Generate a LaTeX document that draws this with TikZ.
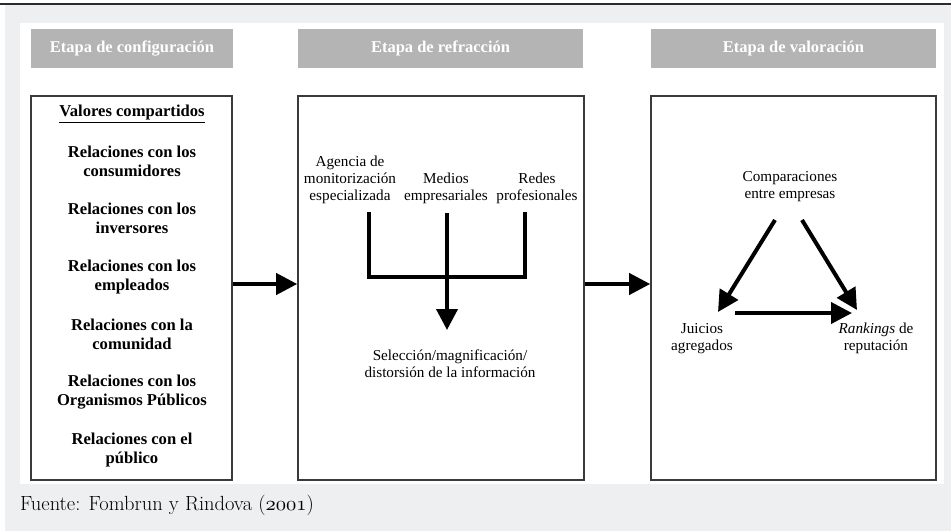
\documentclass[tikz,border=0pt]{standalone}
\usepackage{fontspec}
\newfontfamily\timesfam{Liberation Serif}
\usetikzlibrary{arrows.meta}
\font\osdigits=cmmi10 at 20.5pt
\definecolor{pagebg}{HTML}{EEEFF1}
\definecolor{headgray}{HTML}{B4B4B4}
\definecolor{framegray}{HTML}{3A3A3A}
\definecolor{rulegray}{HTML}{2B2B2B}
\begin{document}
\begin{tikzpicture}[x=1pt,y=-1pt,
  stagebox/.style={draw=framegray, line width=1.6pt, fill=white, inner sep=0pt},
  headbox/.style={fill=headgray, inner sep=0pt, text=white,
    font=\timesfam\bfseries\fontsize{16.5}{19}\selectfont},
  relbold/.style={align=center, inner sep=0pt,
    font=\timesfam\bfseries\fontsize{16.6}{19}\selectfont},
  plaintext/.style={align=center, inner sep=0pt,
    font=\timesfam\fontsize{15.2}{17}\selectfont},
  flow/.style={line width=4pt, -{Triangle[length=21pt,width=21pt]}},
  fork/.style={line width=4pt, line join=miter},
]
\useasboundingbox (0,0) rectangle (951,531);

% page background, top rule and white panel
\fill[pagebg] (5,5) rectangle (951,531);
\draw[rulegray, line width=1.5pt] (0,4) -- (951,4);
\fill[white] (20,23) rectangle (944,484);

% stage headers
\node[headbox, minimum width=202pt, minimum height=39pt] (h1) at (132,48.5) {Etapa de configuración};
\node[headbox, minimum width=285pt, minimum height=39pt] (h2) at (440.5,48.5) {Etapa de refracción};
\node[headbox, minimum width=285pt, minimum height=39pt] (h3) at (793.5,48.5) {Etapa de valoración};

% stage boxes
\node[stagebox, minimum width=201pt, minimum height=384pt] (b1) at (131.5,288) {};
\node[stagebox, minimum width=286pt, minimum height=384pt] (b2) at (441,288) {};
\node[stagebox, minimum width=285pt, minimum height=384pt] (b3) at (793.5,288) {};

% configuration stage
\node[relbold] (valores) at (132,114) {\underline{Valores compartidos}};
\node[relbold] (r1) at (132,161.5) {Relaciones con los\\consumidores};
\node[relbold] (r2) at (132,218.5) {Relaciones con los\\inversores};
\node[relbold] (r3) at (132,277) {Relaciones con los\\empleados};
\node[relbold] (r4) at (132,334.5) {Relaciones con la\\comunidad};
\node[relbold] (r5) at (132,392.5) {Relaciones con los\\Organismos Públicos};
\node[relbold] (r6) at (132,449.5) {Relaciones con el\\público};

% refraction stage
\node[plaintext] (agencia) at (350,180) {Agencia de\\monitorización\\especializada};
\node[plaintext] (medios) at (446,188.5) {Medios\\empresariales};
\node[plaintext] (redes) at (537,188.5) {Redes\\profesionales};
\node[plaintext] (seleccion) at (450,363.5) {Selección/magnificación/\\distorsión de la información};

\coordinate (fa) at (369,212);
\coordinate (fm) at (447,213);
\coordinate (fr) at (525,212);
\coordinate (fj) at (447,277);
\coordinate (ftip) at (447,330);
\draw[fork] (fa) |- (fj) -| (fr);
\draw[flow] (fm) -- (ftip);

% valuation stage
\node[plaintext] (comp) at (790,187) {Comparaciones\\entre empresas};
\node[plaintext] (juicios) at (702,338.5) {Juicios\\agregados};
\node[plaintext] (rankings) at (876,338.5) {\textit{Rankings} de\\reputación};

\coordinate (cl) at (775,220);
\coordinate (cr) at (802,220);
\coordinate (jt) at (718,312);
\coordinate (js) at (735,313);
\coordinate (rt) at (857,310);
\coordinate (rh) at (852,313);
\draw[flow] (cl) -- (jt);
\draw[flow] (cr) -- (rt);
\draw[flow] (js) -- (rh);

% links between stages
\draw[flow] ([yshift=4pt]b1.east) -- ([yshift=4pt]b2.west);
\draw[flow] ([yshift=4pt]b2.east) -- ([yshift=4pt]b3.west);

% source note, old-style year digits
\node[anchor=base west, inner sep=0pt, text=black,
  font=\fontsize{20.5}{24}\selectfont] (src) at (20,510)
  {Fuente: Fombrun y Rindova ({\osdigits 2001})};
\end{tikzpicture}
\end{document}
